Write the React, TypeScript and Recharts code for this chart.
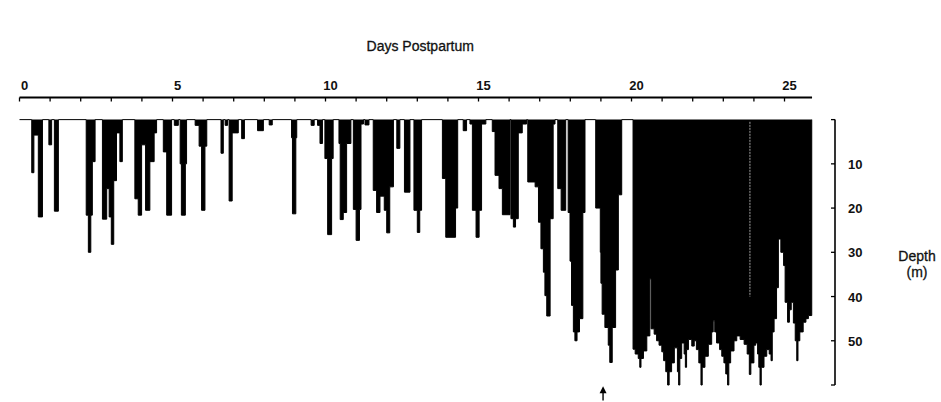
import React from "react";
import { ComposedChart, Area, XAxis, YAxis, ReferenceLine } from "recharts";

// dive profile: [day, depth m], each depth holds until the next break
const diveDays0to5: [number, number][] = [
  [0, 0], [0.4, 12], [0.47, 3.5], [0.615, 22], [0.75, 0],
  [0.96, 5.7], [1.05, 0], [1.14, 20.7], [1.27, 0],
  [2.18, 21.6], [2.25, 30], [2.33, 21.6], [2.38, 9.5], [2.47, 0],
  [2.71, 22.5], [2.85, 15.6], [2.93, 22], [3.0, 28.2], [3.08, 13.8], [3.17, 3], [3.28, 9.5], [3.36, 0],
  [3.77, 17.9], [3.88, 21.6], [3.99, 5.7], [4.12, 20.5], [4.26, 9.5], [4.4, 3], [4.48, 0],
  [4.7, 7.3], [4.81, 21.6], [4.97, 0],
];

const diveDays5to10: [number, number][] = [
  [5.06, 1.3], [5.19, 0],
  [5.25, 10], [5.29, 21.6], [5.42, 10], [5.46, 0],
  [5.74, 1.3], [5.87, 6], [5.95, 20.5], [6.06, 6], [6.12, 0],
  [6.585, 7.6], [6.66, 0],
  [6.72, 1.3], [6.8, 0],
  [6.85, 18.4], [6.95, 3], [7.15, 0],
  [7.26, 4.3], [7.35, 0],
  [7.78, 2.5], [7.97, 0],
  [8.16, 1.2], [8.26, 0],
  [8.89, 4.1], [8.92, 21.3], [9.03, 4.1], [9.06, 0],
  [9.53, 1.3], [9.63, 0],
  [9.74, 1.3], [9.82, 5.4], [9.9, 0],
];

const diveDays10to15: [number, number][] = [
  [9.98, 8.8], [10.07, 26], [10.2, 8.8], [10.25, 0],
  [10.44, 5.4], [10.48, 22.6], [10.58, 21], [10.69, 5.4], [10.83, 0],
  [10.91, 20.3], [11.0, 27.3], [11.11, 20.3], [11.16, 1], [11.24, 0],
  [11.29, 1.2], [11.42, 0],
  [11.56, 16], [11.67, 21], [11.78, 17.3], [11.92, 20.5], [12.0, 25.6], [12.1, 15.2], [12.22, 0],
  [12.33, 6.5], [12.43, 0],
  [12.58, 16.4], [12.76, 0],
  [12.89, 20.5], [13.0, 25.5], [13.08, 20.5], [13.14, 0],
  [13.82, 13.3], [13.93, 26.6], [14.25, 20], [14.32, 0],
  [14.5, 2.5], [14.61, 0],
  [14.72, 1], [14.8, 20.5], [14.92, 26.6], [15.02, 20.5], [15.1, 1], [15.24, 0],
];

const diveDays15to20: [number, number][] = [
  [15.45, 2.7], [15.54, 12.6], [15.67, 15.6], [15.78, 21.5], [16.03, 0], [16.06, 22.4],
  [16.14, 24.3], [16.21, 22.4], [16.3, 3], [16.43, 1], [16.57, 0],
  [16.61, 14.1], [16.85, 15.2], [16.96, 23.2], [17.04, 29.2], [17.12, 34.5], [17.17, 39.8],
  [17.23, 44.4], [17.34, 22.4], [17.44, 1], [17.5, 0],
  [17.59, 15.6], [17.7, 20.5], [17.85, 0],
  [17.93, 21], [17.99, 32], [18.04, 42], [18.1, 48], [18.15, 50], [18.22, 48], [18.3, 45], [18.41, 21], [18.48, 0],
  [18.83, 20], [18.98, 30], [19.0, 37], [19.04, 44], [19.13, 47], [19.24, 51], [19.29, 54.9],
  [19.37, 47], [19.48, 34], [19.57, 17], [19.68, 0],
];

const diveDays20to26: [number, number][] = [
  [20.05, 51.9], [20.12, 53], [20.22, 54], [20.27, 56], [20.31, 54], [20.39, 52.3], [20.5, 48.9],
  [20.6, 36], [20.64, 47.3], [20.74, 48.5], [20.82, 50], [20.9, 51], [20.99, 52.5], [21.05, 54.5],
  [21.12, 57], [21.18, 60], [21.23, 57], [21.31, 55], [21.4, 51.6], [21.5, 57], [21.54, 60],
  [21.58, 54], [21.64, 50.5], [21.72, 53], [21.76, 56], [21.8, 52], [21.86, 49.7], [21.97, 51.2],
  [22.05, 50], [22.12, 52], [22.2, 55], [22.27, 60], [22.31, 56], [22.4, 53.5], [22.51, 50.8],
  [22.62, 48], [22.67, 45.5], [22.72, 48], [22.78, 50.5], [22.88, 52], [22.95, 53.5], [23.02, 55],
  [23.08, 57.5], [23.14, 60], [23.18, 55], [23.24, 52.3], [23.35, 50], [23.44, 48.9], [23.55, 49.7],
  [23.68, 50.8], [23.78, 53], [23.85, 57.6], [23.9, 55], [24.0, 51], [24.06, 50.5], [24.12, 53],
  [24.16, 56], [24.2, 60], [24.24, 56], [24.33, 53.5], [24.42, 52], [24.5, 53], [24.56, 54.5],
  [24.6, 48], [24.66, 45], [24.74, 38], [24.8, 27], [24.88, 30], [24.97, 33], [25.02, 41.3],
  [25.1, 45.8], [25.16, 43], [25.22, 41.3], [25.29, 46], [25.35, 50], [25.4, 54.5], [25.44, 50],
  [25.5, 48], [25.61, 45.8], [25.7, 45], [25.78, 44.3], [25.89, 0],
];

const dayTicks = [0, 1, 2, 3, 4, 5, 6, 7, 8, 9, 10, 11, 12, 13, 14, 15, 16, 17, 18, 19, 20, 21, 22, 23, 24, 25];
const depthTicks = [0, 5, 10, 15, 20, 25, 30, 35, 40, 45, 50, 55, 60];
const depthLabels = [10, 20, 30, 40, 50];

const recordEnd = 25.9;
const xMax = 26.65;
const arrowDay = 19.07;
const gapDay = 23.87; // faint light line through the dense bout

const data = [...diveDays0to5, ...diveDays5to10, ...diveDays10to15, ...diveDays15to20, ...diveDays20to26].map(
  ([day, depth]) => ({ day, depth })
);

const font = "'Liberation Sans', Arial, Helvetica, sans-serif";

const DayTick = (props: any) => {
  const { x, y, payload } = props;
  const v = payload.value;
  return (
    <g>
      <line x1={x} x2={x} y1={y + 8} y2={y + 12} stroke="#000" strokeWidth={1.3} />
      {v % 5 === 0 && (
        <text x={x + 5} y={y} textAnchor="middle" fontSize={13} fontWeight="bold" fontFamily={font} fill="#111">
          {v}
        </text>
      )}
    </g>
  );
};

const DepthTick = (props: any) => {
  const { x, y, payload } = props;
  const v = payload.value;
  return (
    <g>
      <line x1={x - 17} x2={x - 13} y1={y} y2={y} stroke="#000" strokeWidth={1.3} />
      {depthLabels.includes(v) && (
        <text x={x} y={y} dy={5} textAnchor="start" fontSize={13} fontWeight="bold" fontFamily={font} fill="#111">
          {v}
        </text>
      )}
    </g>
  );
};

const DepthTitle = (props: any) => {
  const vb = props.viewBox || {};
  const cx = vb.x + 82;
  const cy = vb.y + vb.height / 2 + 20;
  return (
    <text x={cx} y={cy} textAnchor="middle" fontSize={14} fontFamily={font} fill="#111" stroke="#111" strokeWidth={0.3}>
      <tspan x={cx}>Depth</tspan>
      <tspan x={cx} dy={16}>(m)</tspan>
    </text>
  );
};

const Arrow = (props: any) => {
  const { x1, y1, y2 } = props;
  const top = Math.min(y1, y2);
  const bottom = Math.max(y1, y2);
  return (
    <g>
      <line x1={x1} x2={x1} y1={top + 3} y2={bottom} stroke="#000" strokeWidth={1.4} />
      <polygon points={`${x1},${top} ${x1 - 3.5},${top + 7} ${x1 + 3.5},${top + 7}`} fill="#000" />
    </g>
  );
};

export default function App() {
  return (
    <div style={{ position: "absolute", left: 0, top: 0, width: 941, height: 402, background: "#fff" }}>
      <ComposedChart
        width={941}
        height={402}
        data={data}
        margin={{ top: 0, right: 0, bottom: 17, left: 19.5 }}
        style={{ fontFamily: font }}
      >
        <XAxis
          dataKey="day"
          type="number"
          orientation="top"
          domain={[0, xMax]}
          ticks={dayTicks}
          height={97.5}
          axisLine={false}
          tickLine={false}
          tickSize={0}
          tickMargin={8}
          tick={<DayTick />}
          label={{
            value: "Days Postpartum",
            position: "insideTop",
            offset: 41,
            dx: -7,
            fontSize: 14,
            fill: "#111",
            stroke: "#111",
            strokeWidth: 0.3,
            fontFamily: font,
          }}
        />
        <YAxis
          type="number"
          orientation="right"
          reversed
          domain={[-5, 60]}
          ticks={depthTicks}
          width={106}
          axisLine={false}
          tickLine={false}
          tickSize={0}
          tickMargin={13}
          tick={<DepthTick />}
          label={{ content: <DepthTitle /> }}
        />
        <Area
          type="stepAfter"
          dataKey="depth"
          baseValue={0}
          stroke="#000"
          strokeWidth={1}
          fill="#000"
          fillOpacity={1}
          isAnimationActive={false}
          dot={false}
          activeDot={false}
        />
        <ReferenceLine
          segment={[{ x: gapDay, y: 0.5 }, { x: gapDay, y: 40 }]}
          stroke="#fff"
          strokeWidth={0.8}
          strokeOpacity={0.8}
          strokeDasharray="2 1"
        />
        <ReferenceLine segment={[{ x: 0, y: -5 }, { x: recordEnd, y: -5 }]} stroke="#000" strokeWidth={2} ifOverflow="visible" />
        <ReferenceLine segment={[{ x: xMax, y: 0 }, { x: xMax, y: 60 }]} stroke="#000" strokeWidth={1.6} ifOverflow="visible" />
        <ReferenceLine
          segment={[{ x: arrowDay, y: 60.3 }, { x: arrowDay, y: 63.5 }]}
          ifOverflow="visible"
          shape={<Arrow />}
        />
      </ComposedChart>
    </div>
  );
}
